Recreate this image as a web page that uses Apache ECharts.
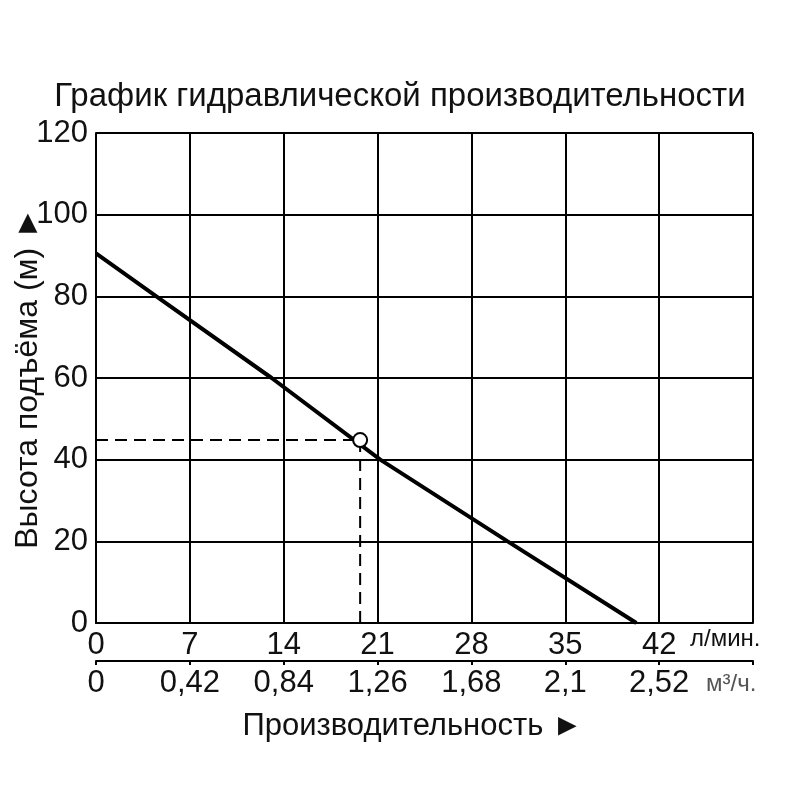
<!DOCTYPE html>
<html>
<head>
<meta charset="utf-8">
<script src="https://cdn.jsdelivr.net/npm/echarts@6/dist/echarts.min.js"></script>
<style>html,body{margin:0;padding:0;background:#fff}#c{width:800px;height:800px}</style>
</head>
<body>
<div id="c"></div>
<script>
// Data
const titleText = 'График гидравлической производительности';
const yName = 'Высота подъёма (м) ►';
const xName = 'Производительность ►';
const flowUnit = 'л/мин.';
const volUnit = 'м³/ч.';
const lpmTicks = [0, 7, 14, 21, 28, 35, 42];
const m3hLabels = ['0', '0,42', '0,84', '1,26', '1,68', '2,1', '2,52'];
const curveFlow = [0, 4.5, 13.1, 21.2, 30.7, 40.3];
const curveHead = [90.5, 80, 60, 40, 20, 0];
const opFlow = 19.7;
const opHead = 44.8;

const font = 'Liberation Sans, Arial, sans-serif';
const chart = echarts.init(document.getElementById('c'));
const curve = curveFlow.map((f, i) => [f, curveHead[i]]);

chart.setOption({
  backgroundColor: '#fff',
  animation: false,
  title: {
    text: titleText, left: 'center', top: 75,
    textStyle: { fontFamily: font, fontSize: 33, fontWeight: 'normal', color: '#111' }
  },
  grid: { left: 96, right: 47, top: 133, bottom: 177, containLabel: false, outerBoundsMode: 'none' },
  xAxis: [
    {
      type: 'value', min: 0, max: 49, interval: 7, position: 'bottom',
      axisLine: { show: true, lineStyle: { color: '#000', width: 2 } },
      axisTick: { show: false },
      splitLine: { show: true, lineStyle: { color: '#000', width: 2 } },
      axisLabel: {
        margin: 7, fontFamily: font, fontSize: 31, color: '#111',
        formatter: v => lpmTicks.indexOf(v) >= 0 ? String(v) : ''
      }
    },
    {
      type: 'value', min: 0, max: 49, interval: 7, position: 'bottom', offset: 38,
      axisLine: { show: true, onZero: false, lineStyle: { color: '#000', width: 2 } },
      axisTick: { show: true, length: 4, lineStyle: { color: '#000', width: 2 } },
      splitLine: { show: false },
      axisLabel: {
        margin: 7, fontFamily: font, fontSize: 31, color: '#111',
        formatter: v => { const i = lpmTicks.indexOf(v); return i >= 0 ? m3hLabels[i] : ''; }
      },
      name: xName, nameLocation: 'middle', nameGap: 50, nameMoveOverlap: false,
      nameTextStyle: { fontFamily: font, fontSize: 31, color: '#111', padding: [0, 24, 0, 0] }
    }
  ],
  yAxis: {
    type: 'value', min: 0, max: 120, interval: 20,
    axisLine: { show: true, lineStyle: { color: '#000', width: 2 } },
    axisTick: { show: false },
    splitLine: { show: true, lineStyle: { color: '#000', width: 2 } },
    axisLabel: { margin: 8, fontFamily: font, fontSize: 31, color: '#111' },
    name: yName, nameLocation: 'middle', nameRotate: 90, nameGap: 52, nameMoveOverlap: false,
    nameTextStyle: { fontFamily: font, fontSize: 32, color: '#111' }
  },
  graphic: [
    { type: 'text', left: 690, top: 627, style: { text: flowUnit, fontFamily: font, fontSize: 24, fill: '#111' } },
    { type: 'text', left: 706, top: 672, style: { text: volUnit, fontFamily: font, fontSize: 24, fill: '#555' } }
  ],
  series: [
    {
      type: 'line', xAxisIndex: 0, data: [[0, opHead], [opFlow, opHead]],
      symbol: 'none', lineStyle: { color: '#000', width: 2, type: [12, 7] }, z: 3
    },
    {
      type: 'line', xAxisIndex: 0, data: [[opFlow, 0], [opFlow, opHead]],
      symbol: 'none', lineStyle: { color: '#000', width: 2, type: [12, 7] }, z: 3
    },
    {
      type: 'line', xAxisIndex: 0, data: curve, symbol: 'none',
      lineStyle: { color: '#000', width: 4 }, z: 4
    },
    {
      type: 'scatter', xAxisIndex: 0, data: [[opFlow, opHead]], symbol: 'circle', symbolSize: 14,
      itemStyle: { color: '#fff', borderColor: '#000', borderWidth: 2, opacity: 1 }, z: 5
    }
  ]
});
</script>
</body>
</html>
